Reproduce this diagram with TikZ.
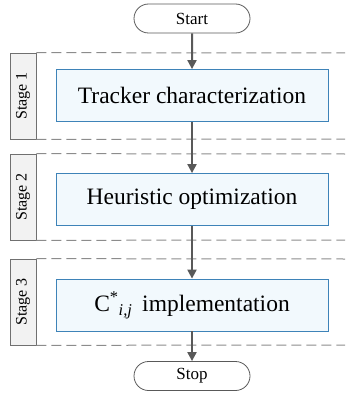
\documentclass[tikz,border=0pt]{standalone}
\usepackage{fontspec}
\setmainfont{Liberation Serif}
\usetikzlibrary{arrows.meta,shapes.misc}
\definecolor{arrowgray}{HTML}{595959}
\definecolor{dashgray}{HTML}{8C8C8C}
\definecolor{boxblue}{HTML}{3E83B8}
\definecolor{boxfill}{HTML}{F2F9FD}
\definecolor{labfill}{HTML}{F2F2F2}
\tikzset{
  procbox/.style={draw=boxblue, fill=boxfill, line width=0.8pt, minimum width=272pt, minimum height=52pt, inner sep=0pt, font=\fontsize{23.5}{26}\selectfont},
  term/.style={draw=arrowgray, rounded rectangle, line width=0.8pt, minimum width=116pt, minimum height=29pt, inner sep=0pt, font=\fontsize{17}{19}\selectfont},
  stagebox/.style={draw=dashgray!80!black, fill=labfill, line width=0.7pt, minimum width=86pt, minimum height=26pt, inner sep=0pt, rotate=90, font=\fontsize{16}{18}\selectfont},
  sep/.style={draw=dashgray, line width=1pt, dash pattern=on 10pt off 5pt},
  flow/.style={draw=arrowgray, line width=2pt, -{Triangle[length=9pt,width=9pt]}},
}
\begin{document}
\begin{tikzpicture}[x=1pt,y=-1pt]
\useasboundingbox (0,0) rectangle (345,393);
% terminals
\node[term] (start) at (192,18.5) {Start};
\node[term] (stop) at (192,376) {Stop};
% stage labels
\node[stagebox] (s1) at (23,96) {Stage 1};
\node[stagebox] (s2) at (23,197) {Stage 2};
\node[stagebox] (s3) at (23,302) {Stage 3};
% dashed separators
\coordinate (e1t) at (345,53);
\coordinate (e1b) at (345,139);
\coordinate (e2t) at (345,154);
\coordinate (e2b) at (345,240);
\coordinate (e3t) at (345,259);
\coordinate (e3b) at (345,345);
\draw[sep] (s1.south east) -- (e1t);
\draw[sep] (s1.south west) -- (e1b);
\draw[sep] (s2.south east) -- (e2t);
\draw[sep] (s2.south west) -- (e2b);
\draw[sep] (s3.south east) -- (e3t);
\draw[sep] (s3.south west) -- (e3b);
% process boxes
\node[procbox] (b1) at (192,95.5) {Tracker characterization};
\node[procbox] (b2) at (192,199.5) {Heuristic optimization};
\node[procbox] (b3) at (192,305) {C\textsuperscript{*}\textsubscript{\textit{i,j}}\, implementation};
% arrows
\draw[flow] (start) -- (b1);
\draw[flow] (b1) -- (b2);
\draw[flow] (b2) -- (b3);
\draw[flow] (b3) -- (stop);
\end{tikzpicture}
\end{document}
